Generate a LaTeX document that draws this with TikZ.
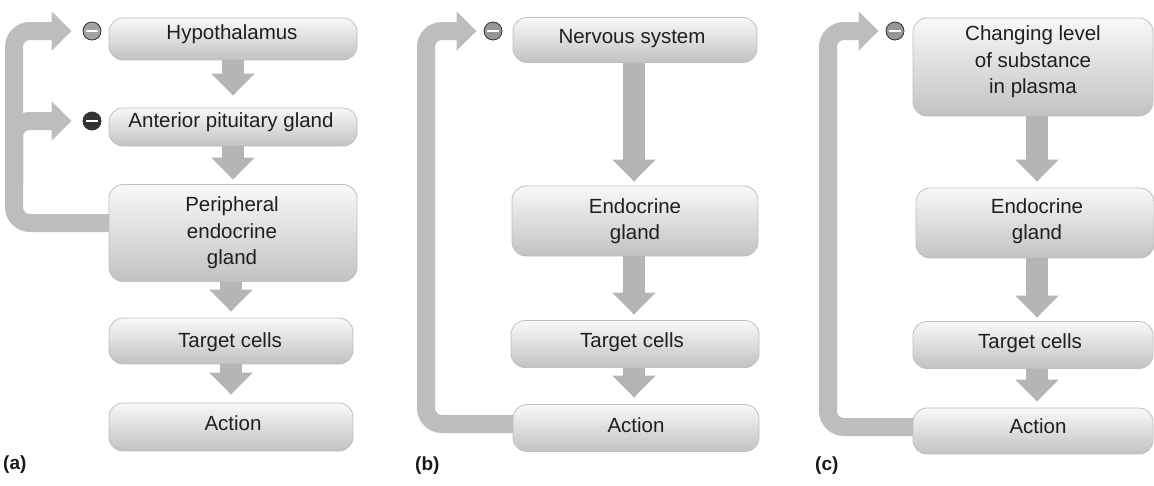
\documentclass[tikz,border=0pt]{standalone}
\usepackage{fontspec}
\newfontfamily\lsans{Liberation Sans}
\usetikzlibrary{arrows.meta}
\pgfdeclarelayer{bg}
\pgfsetlayers{bg,main}
\begin{document}
\begin{tikzpicture}[x=1pt,y=-1pt,
  box/.style={rounded corners=14pt, top color=gray!5, bottom color=gray!48, draw=gray!50, line width=0.8pt, inner sep=0pt},
  txt/.style={font=\lsans\fontsize{20.5}{26.5}\selectfont, text=black!88, align=center, inner sep=0pt},
  lab/.style={font=\lsans\bfseries\fontsize{19}{23}\selectfont, text=black!90, anchor=base west, inner sep=0pt},
  ballnode/.style={circle, minimum size=18pt, inner sep=0pt, fill=#1, draw=black!80, line width=0.8pt},
  darr/.style={line width=22pt, draw=gray!58, -{Triangle[width=42pt,length=22pt]}},
  fb/.style={line width=18pt, draw=gray!52, rounded corners=16pt, -{Triangle[width=38pt,length=20pt]}},
  bar/.style={draw=white, line width=2.4pt}
]
\useasboundingbox (0,0) rectangle (1154,485);

% ---------- panel (a) ----------
\node[box, minimum width=248pt, minimum height=42pt] (hyp) at (233,39) {};
\node[txt, anchor=base] (hypT) at (232,39) {Hypothalamus};
\node[box, minimum width=248pt, minimum height=38pt] (ant) at (233,127) {};
\node[txt, anchor=base] (antT) at (231,127) {Anterior pituitary gland};
\node[box, minimum width=248pt, minimum height=97pt] (per) at (233,233) {};
\node[txt] (perT) at (232,233) {Peripheral\\endocrine\\gland};
\node[box, minimum width=244pt, minimum height=46pt] (tgtA) at (231,341) {};
\node[txt, anchor=base] (tgtAT) at (230,347) {Target cells};
\node[box, minimum width=244pt, minimum height=48pt] (actA) at (231,427) {};
\node[txt, anchor=base] (actAT) at (233,430) {Action};

\node[ballnode=gray!72] (c1) at (92,31) {};
\draw[bar] ([xshift=-6pt]c1.center) -- ([xshift=6pt]c1.center);
\node[ballnode=black!80] (c2) at (92,121) {};
\draw[bar] ([xshift=-6pt]c2.center) -- ([xshift=6pt]c2.center);

\draw[darr] (hyp.south) -- ([yshift=12pt]ant.north);
\draw[darr] (ant.south) -- ([yshift=4.5pt]per.north);
\draw[darr] ([xshift=-2pt]per.south) -- ([yshift=6pt]tgtA.north);
\draw[darr] (tgtA.south) -- ([yshift=8pt]actA.north);

\coordinate (aV) at (14,0);
\coordinate (aS) at ([xshift=10pt,yshift=10pt]per.west);

% ---------- panel (b) ----------
\node[box, minimum width=244pt, minimum height=45pt] (ns) at (635,40) {};
\node[txt, anchor=base] (nsT) at (632,43) {Nervous system};
\node[box, minimum width=246pt, minimum height=70pt] (endoB) at (635,221) {};
\node[txt] (endoBT) at (635,221) {Endocrine\\gland};
\node[box, minimum width=248pt, minimum height=47pt] (tgtB) at (635,344) {};
\node[txt, anchor=base] (tgtBT) at (632,347) {Target cells};
\node[box, minimum width=246pt, minimum height=47pt] (actB) at (636,428) {};
\node[txt, anchor=base] (actBT) at (636,432) {Action};

\node[ballnode=gray!82] (c3) at (493,31) {};
\draw[bar] ([xshift=-6pt]c3.center) -- ([xshift=6pt]c3.center);

\draw[darr] ([xshift=-1pt]ns.south) -- ([xshift=-1pt,yshift=4pt]endoB.north);
\draw[darr] ([xshift=-1pt]endoB.south) -- ([xshift=-1pt,yshift=5.5pt]tgtB.north);
\draw[darr] ([xshift=-1pt]tgtB.south) -- ([xshift=-2pt,yshift=6.5pt]actB.north);

\coordinate (bV) at (426,0);
\coordinate (bS) at ([xshift=10pt,yshift=4pt]actB.west);

% ---------- panel (c) ----------
\node[box, minimum width=240pt, minimum height=98pt] (chg) at (1033,67) {};
\node[txt] (chgT) at (1033,62) {Changing level\\of substance\\in plasma};
\node[box, minimum width=238pt, minimum height=70pt] (endoC) at (1035,223) {};
\node[txt] (endoCT) at (1037,221) {Endocrine\\gland};
\node[box, minimum width=240pt, minimum height=47pt] (tgtC) at (1033,345) {};
\node[txt, anchor=base] (tgtCT) at (1030,348) {Target cells};
\node[box, minimum width=240pt, minimum height=46pt] (actC) at (1033,431) {};
\node[txt, anchor=base] (actCT) at (1038,433) {Action};

\node[ballnode=gray!82] (c4) at (895,31) {};
\draw[bar] ([xshift=-6pt]c4.center) -- ([xshift=6pt]c4.center);

\draw[darr] ([xshift=4pt]chg.south) -- ([xshift=2pt,yshift=6pt]endoC.north);
\draw[darr] ([xshift=2pt]endoC.south) -- ([xshift=4pt,yshift=3.5pt]tgtC.north);
\draw[darr] ([xshift=4pt]tgtC.south) -- ([xshift=4pt,yshift=6pt]actC.north);

\coordinate (cV) at (828,0);
\coordinate (cS) at ([xshift=10pt,yshift=4pt]actC.west);

% ---------- feedback loops (behind boxes) ----------
\begin{pgfonlayer}{bg}
\draw[fb] (aS) -- (aS -| aV) -- (aV |- c1.west) -- ([xshift=-11pt]c1.west);
\draw[fb] (aV |- per.north) -- (aV |- c2.west) -- ([xshift=-11pt]c2.west);
\draw[fb] (bS) -- (bS -| bV) -- (bV |- c3.west) -- ([xshift=-7pt]c3.west);
\draw[fb] (cS) -- (cS -| cV) -- (cV |- c4.west) -- ([xshift=-7pt]c4.west);
\end{pgfonlayer}

% ---------- panel labels ----------
\node[lab] (la) at (3,469) {(a)};
\node[lab] (lb) at (415,470) {(b)};
\node[lab] (lc) at (815,470) {(c)};
\end{tikzpicture}
\end{document}
